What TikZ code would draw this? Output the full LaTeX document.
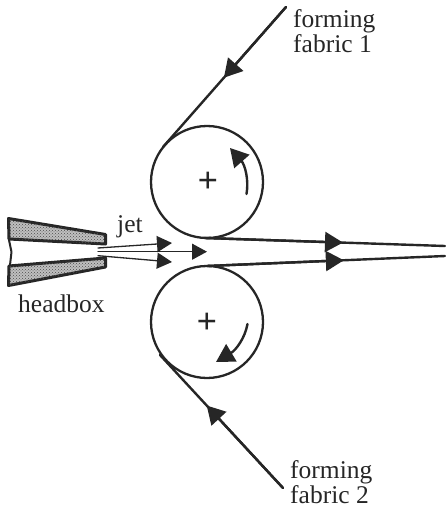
\documentclass[tikz,border=0pt]{standalone}
\usepackage{fontspec}
\setmainfont{Liberation Serif}
\usetikzlibrary{arrows.meta,patterns,calc}
\tikzset{
	belt/.style={line width=2.4pt,draw=black!85},
	roll/.style={circle,draw=black!85,line width=2.3pt,minimum size=112pt,inner sep=0pt},
	wedge/.style={draw=black!85,line width=3pt,fill=black!25,postaction={pattern=crosshatch dots,pattern color=black!70}},
	bigtip/.style={-{Triangle[length=18pt,width=20pt]}},
	jettip/.style={-{Triangle[length=15pt,width=16pt]},line width=1.3pt,draw=black!85},
	lbl/.style={font=\fontsize{25.5}{25}\selectfont,align=left,inner sep=0pt,text=black!85},
	plusmark/.style={font=\fontsize{36}{36}\selectfont\bfseries,inner sep=0pt,text=black!85}
}
\begin{document}
\begin{tikzpicture}[x=1pt,y=-1pt,line join=round,line cap=round]
	\useasboundingbox (0,0) rectangle (445,508);
	% rolls
	\node[roll] (rolla) at (207,182) {};
	\node[roll] (rollb) at (207,322) {};
	\path (208,182) node[plusmark] (plusa) {+};
	\path (207,323) node[plusmark] (plusb) {+};
	% fabrics
	\coordinate (topa) at (286,7);
	\coordinate (tana) at (163,147);
	\coordinate (mida) at ($(topa)!.505!(tana)$);
	\coordinate (topb) at (283,488);
	\coordinate (tanb) at (160,355);
	\coordinate (midb) at ($(topb)!.62!(tanb)$);
	\draw[belt] (topa)--(tana);
	\draw[belt,bigtip] (topa)--(mida);
	\draw[belt] (topb)--(tanb);
	\draw[belt,bigtip] (topb)--(midb);
	% belts to the right
	\coordinate (enda) at (445,246);
	\coordinate (endb) at (445,256);
	\coordinate (nipa) at (205,238);
	\coordinate (nipb) at (207,266);
	\coordinate (tipa) at ($(nipa)!.575!(enda)$);
	\coordinate (tipb) at ($(nipb)!.575!(endb)$);
	\draw[belt] (nipa)--(enda);
	\draw[belt] (nipb)--(endb);
	\draw[belt,bigtip] (nipa)--(tipa);
	\draw[belt,bigtip] (nipb)--(tipb);
	% rotation arrows
	\coordinate (rota) at (246.5,194);
	\coordinate (rotb) at (247.5,324);
	\draw[belt,bigtip] (rota) .. controls (249,180) and (245,165) .. (230,148);
	\draw[belt,bigtip] (rotb) .. controls (245,338) and (236,350) .. (216,362);
	% headbox
	\draw[wedge] (8.5,218.5)--(105.5,234.5)--(105.5,244)--(9,239)--cycle;
	\draw[wedge] (9,266)--(105.5,258)--(105.5,267)--(8.5,285.5)--cycle;
	\draw[line width=2pt,draw=black!85] (9,240)--(11.5,252)--(10,265);
	% jets
	\coordinate (joa) at (98,248);
	\coordinate (job) at (98,251.7);
	\coordinate (joc) at (98,255.7);
	\coordinate (jea) at (172,243);
	\coordinate (jeb) at (207,251.7);
	\coordinate (jec) at (172,262);
	\foreach \a/\b in {joa/jea,job/jeb,joc/jec} \draw[jettip] (\a)--(\b);
	% labels
	\path (293,53) node[lbl,anchor=base west] (labela) {forming\\fabric 1};
	\path (290,503) node[lbl,anchor=base west] (labelb) {forming\\fabric 2};
	\path (117,232) node[lbl,anchor=base west] (labeljet) {jet};
	\path (18,312) node[lbl,anchor=base west] (labelbox) {headbox};
\end{tikzpicture}
\end{document}
